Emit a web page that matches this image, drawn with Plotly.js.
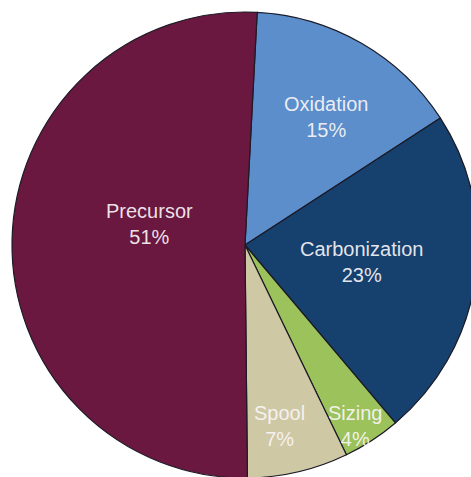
<!DOCTYPE html>
<html>
<head>
<meta charset="utf-8">
<script src="https://cdn.plot.ly/plotly-3.0.1.min.js"></script>
<style>
html, body { margin: 0; padding: 0; overflow: hidden; background: #ffffff; }
#chart { width: 490px; height: 490px; }
</style>
</head>
<body>
<div id="chart"></div>
<script>
// Data
const labels = ['Oxidation', 'Carbonization', 'Sizing', 'Spool', 'Precursor'];
const values = [15, 23, 4, 7, 51];

// Styles
const colors = ['#5b8ecb', '#16406e', '#9cc25c', '#cfc8a4', '#6a1840'];
const labelPx = [[326, 117], [361, 262], [355, 426], [279, 426], [149, 224]];
const W = 490, H = 490;

const annotations = labels.map((lab, i) => ({
  text: lab + '<br>' + values[i] + '%',
  x: labelPx[i][0] / W,
  y: 1 - labelPx[i][1] / H,
  xref: 'paper', yref: 'paper',
  xanchor: 'center', yanchor: 'middle',
  showarrow: false,
  font: { family: 'Liberation Sans, Arial, sans-serif', size: 20, color: 'rgba(250,246,248,0.92)' }
}));

const trace = {
  type: 'pie',
  labels: labels,
  values: values,
  sort: false,
  direction: 'clockwise',
  rotation: 3,
  textinfo: 'none',
  hoverinfo: 'label+percent',
  marker: { colors: colors, line: { color: '#1c1a26', width: 1.2 } },
  domain: { x: [12 / W, 478 / W], y: [12 / H, 478 / H] }
};

Plotly.newPlot('chart', [trace], {
  width: W, height: H,
  margin: { l: 0, r: 0, t: 0, b: 0 },
  showlegend: false,
  paper_bgcolor: '#ffffff',
  annotations: annotations
}, { displayModeBar: false, staticPlot: true });
</script>
</body>
</html>
